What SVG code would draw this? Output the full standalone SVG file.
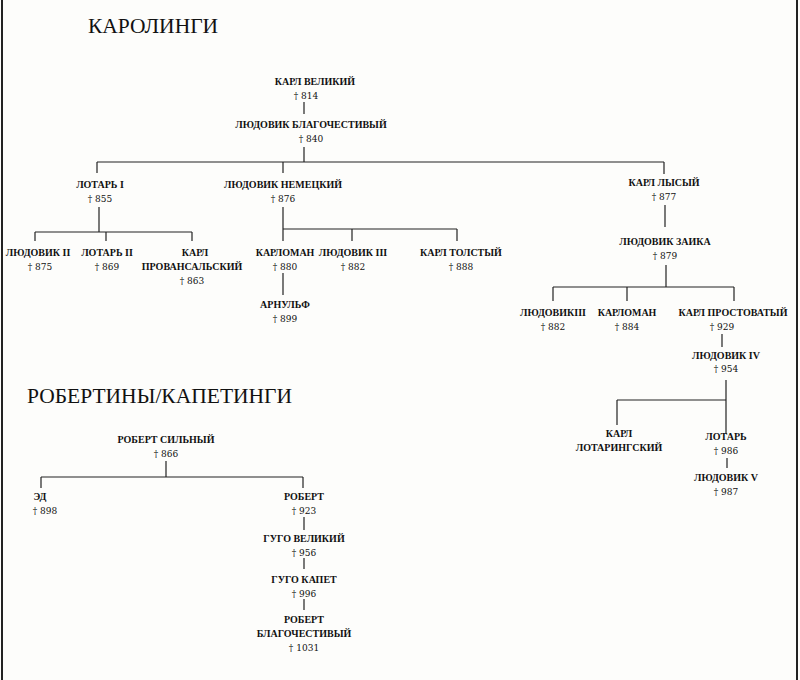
<svg xmlns="http://www.w3.org/2000/svg" width="800" height="680" viewBox="0 0 800 680">
<style>
.t{font-family:"Liberation Serif","Times New Roman",serif;font-size:21.5px;fill:#111}
.n{font-family:"Liberation Serif","Times New Roman",serif;font-size:10px;font-weight:bold;fill:#111;text-anchor:middle}
.d{font-family:"DejaVu Serif","Liberation Serif",serif;font-size:9px;fill:#111;text-anchor:middle}
.c line{stroke:#222;stroke-width:1.2}
</style>
<rect width="800" height="680" fill="#fdfdfb"/>
<line x1="2" y1="0" x2="2" y2="680" stroke="#222" stroke-width="2"/>
<line x1="797" y1="0" x2="797" y2="680" stroke="#222" stroke-width="2"/>
<text class="t" x="88" y="33">КАРОЛИНГИ</text>
<text class="t" x="27" y="403">РОБЕРТИНЫ/КАПЕТИНГИ</text>
<g class="c" id="connectors">
<line x1="304" y1="102" x2="304" y2="114"/>
<line x1="304" y1="147" x2="304" y2="162"/>
<line x1="97" y1="162" x2="664" y2="162"/>
<line x1="97" y1="162" x2="97" y2="173"/>
<line x1="283" y1="162" x2="283" y2="173"/>
<line x1="664" y1="162" x2="664" y2="174"/>
<line x1="99" y1="207" x2="99" y2="232"/>
<line x1="35" y1="232" x2="192" y2="232"/>
<line x1="35" y1="232" x2="35" y2="241"/>
<line x1="106" y1="232" x2="106" y2="241"/>
<line x1="192" y1="232" x2="192" y2="241"/>
<line x1="283" y1="207" x2="283" y2="241"/>
<line x1="283" y1="229" x2="457" y2="229"/>
<line x1="352" y1="229" x2="352" y2="241"/>
<line x1="457" y1="229" x2="457" y2="241"/>
<line x1="283" y1="273" x2="283" y2="295"/>
<line x1="665" y1="205" x2="665" y2="227"/>
<line x1="666" y1="265" x2="666" y2="287"/>
<line x1="553" y1="287" x2="734" y2="287"/>
<line x1="553" y1="287" x2="553" y2="301"/>
<line x1="627" y1="287" x2="627" y2="301"/>
<line x1="734" y1="287" x2="734" y2="301"/>
<line x1="722" y1="334" x2="722" y2="347"/>
<line x1="726" y1="380" x2="726" y2="434"/>
<line x1="617" y1="400" x2="726" y2="400"/>
<line x1="617" y1="400" x2="617" y2="425"/>
<line x1="727" y1="458" x2="727" y2="468"/>
<line x1="166" y1="461" x2="166" y2="477"/>
<line x1="41" y1="477" x2="303" y2="477"/>
<line x1="41" y1="477" x2="41" y2="488"/>
<line x1="303" y1="477" x2="303" y2="488"/>
<line x1="304" y1="517" x2="304" y2="530"/>
<line x1="304" y1="558" x2="304" y2="569"/>
<line x1="304" y1="599" x2="304" y2="610"/>
</g>
<g id="karl-velikiy"><text class="n" x="315" y="85">КАРЛ ВЕЛИКИЙ</text><text class="d" x="306" y="99">† 814</text></g>
<g id="ludovik-blag"><text class="n" x="311" y="128">ЛЮДОВИК БЛАГОЧЕСТИВЫЙ</text><text class="d" x="311" y="142">† 840</text></g>
<g id="lotar1"><text class="n" x="100" y="188">ЛОТАРЬ I</text><text class="d" x="100" y="202">† 855</text></g>
<g id="ludovik-nem"><text class="n" x="283" y="188">ЛЮДОВИК НЕМЕЦКИЙ</text><text class="d" x="283" y="202">† 876</text></g>
<g id="karl-lysy"><text class="n" x="664" y="186">КАРЛ ЛЫСЫЙ</text><text class="d" x="664" y="200">† 877</text></g>
<g id="ludovik2"><text class="n" x="38" y="256">ЛЮДОВИК II</text><text class="d" x="40" y="270">† 875</text></g>
<g id="lotar2"><text class="n" x="107" y="256">ЛОТАРЬ II</text><text class="d" x="107" y="270">† 869</text></g>
<g id="karl-prov"><text class="n" x="195" y="256">КАРЛ</text><text class="n" x="192" y="270">ПРОВАНСАЛЬСКИЙ</text><text class="d" x="192" y="284">† 863</text></g>
<g id="karloman1"><text class="n" x="285" y="256">КАРЛОМАН</text><text class="d" x="285" y="270">† 880</text></g>
<g id="ludovik3a"><text class="n" x="353" y="256">ЛЮДОВИК III</text><text class="d" x="353" y="270">† 882</text></g>
<g id="karl-tolsty"><text class="n" x="461" y="256">КАРЛ ТОЛСТЫЙ</text><text class="d" x="461" y="270">† 888</text></g>
<g id="arnulf"><text class="n" x="285" y="308">АРНУЛЬФ</text><text class="d" x="285" y="322">† 899</text></g>
<g id="ludovik-zaika"><text class="n" x="665" y="245">ЛЮДОВИК ЗАИКА</text><text class="d" x="665" y="259">† 879</text></g>
<g id="ludovik3b"><text class="n" x="553" y="316">ЛЮДОВИКIII</text><text class="d" x="553" y="330">† 882</text></g>
<g id="karloman2"><text class="n" x="627" y="316">КАРЛОМАН</text><text class="d" x="627" y="330">† 884</text></g>
<g id="karl-prost"><text class="n" x="733" y="316">КАРЛ ПРОСТОВАТЫЙ</text><text class="d" x="722" y="330">† 929</text></g>
<g id="ludovik4"><text class="n" x="726" y="359">ЛЮДОВИК IV</text><text class="d" x="726" y="372">† 954</text></g>
<g id="karl-lot"><text class="n" x="619" y="437">КАРЛ</text><text class="n" x="619" y="451">ЛОТАРИНГСКИЙ</text></g>
<g id="lotar"><text class="n" x="726" y="440">ЛОТАРЬ</text><text class="d" x="726" y="454">† 986</text></g>
<g id="ludovik5"><text class="n" x="726" y="481">ЛЮДОВИК V</text><text class="d" x="726" y="495">† 987</text></g>
<g id="robert-silny"><text class="n" x="166" y="443">РОБЕРТ СИЛЬНЫЙ</text><text class="d" x="166" y="457">† 866</text></g>
<g id="ed"><text class="n" x="40" y="500">ЭД</text><text class="d" x="45" y="514">† 898</text></g>
<g id="robert"><text class="n" x="304" y="500">РОБЕРТ</text><text class="d" x="304" y="514">† 923</text></g>
<g id="gugo-vel"><text class="n" x="304" y="542">ГУГО ВЕЛИКИЙ</text><text class="d" x="304" y="556">† 956</text></g>
<g id="gugo-kapet"><text class="n" x="304" y="583">ГУГО КАПЕТ</text><text class="d" x="304" y="597">† 996</text></g>
<g id="robert-blag"><text class="n" x="304" y="623">РОБЕРТ</text><text class="n" x="304" y="637">БЛАГОЧЕСТИВЫЙ</text><text class="d" x="304" y="651">† 1031</text></g>
</svg>
